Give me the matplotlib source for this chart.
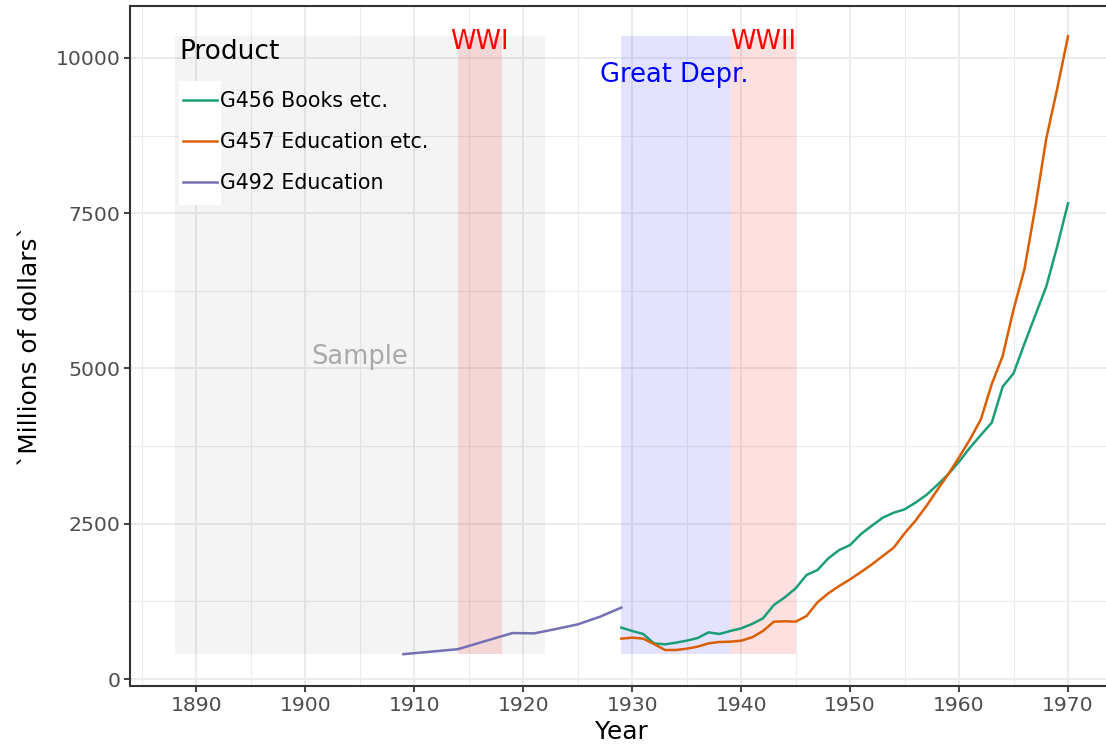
import matplotlib
matplotlib.use("Agg")
import matplotlib.pyplot as plt
from matplotlib.patches import Rectangle

# data
years_post = list(range(1929, 1971))
books = [827, 773, 725, 574, 558, 585, 617, 660, 751, 725, 773, 816, 886, 977,
         1192, 1315, 1460, 1675, 1755, 1943, 2077, 2158, 2335, 2469, 2598, 2678,
         2732, 2840, 2963, 3124, 3296, 3500, 3725, 3929, 4128, 4707, 4922, 5400,
         5860, 6318, 6962, 7660]
educ_etc = [650, 666, 650, 564, 467, 467, 488, 521, 574, 596, 601, 617, 671, 773,
            923, 929, 923, 1014, 1235, 1380, 1498, 1605, 1723, 1846, 1981, 2115,
            2346, 2550, 2786, 3043, 3296, 3570, 3859, 4181, 4750, 5200, 5950, 6600,
            7600, 8700, 9500, 10350]
years_pre = [1909, 1914, 1919, 1921, 1923, 1925, 1927, 1929]
educ = [400, 480, 740, 735, 805, 880, 1000, 1150]

labels = ["G456 Books etc.", "G457 Education etc.", "G492 Education"]
colors = ["#1B9E77", "#D95F02", "#7570B3"]

# shaded periods: (start, end, colour, alpha)
periods = [
    (1888, 1922, "grey", 0.085),
    (1914, 1918, "red", 0.12),
    (1929, 1939, "blue", 0.11),
    (1939, 1945, "red", 0.12),
]
rect_bottom, rect_top = 400, 10350

W, H = 1106, 751
fig = plt.figure(figsize=(W / 100, H / 100), dpi=100)
ax = fig.add_axes([130 / W, 1 - 686 / H, (1112.7 - 130) / W, 680 / H])

ax.set_xlim(1883.9, 1974.1)
ax.set_ylim(-112.7, 10837)

ax.set_xticks(range(1890, 1971, 10))
ax.set_xticks(range(1885, 1975, 10), minor=True)
ax.set_yticks([0, 2500, 5000, 7500, 10000])
ax.set_yticks([1250, 3750, 6250, 8750], minor=True)
ax.grid(which="major", color="#ebebeb", linewidth=1.4, zorder=0)
ax.grid(which="minor", color="#ebebeb", linewidth=0.8, zorder=0)
ax.set_axisbelow(True)

for x0, x1, c, a in periods:
    ax.add_patch(Rectangle((x0, rect_bottom), x1 - x0, rect_top - rect_bottom,
                           facecolor=c, alpha=a, edgecolor="none", zorder=1))

# white key background for the legend
ax.add_patch(Rectangle((49 / 982.7, (686 - 205) / 680), 42 / 982.7, 124 / 680,
                       transform=ax.transAxes, facecolor="white",
                       edgecolor="none", zorder=1.5))

ax.plot(years_post, books, color=colors[0], lw=1.8, label=labels[0], zorder=3)
ax.plot(years_post, educ_etc, color=colors[1], lw=1.8, label=labels[1], zorder=3)
ax.plot(years_pre, educ, color=colors[2], lw=1.8, label=labels[2], zorder=3)

ax.text(1916, 10250, "WWI", color="red", fontsize=18.5, ha="center", va="center")
ax.text(1942, 10250, "WWII", color="red", fontsize=18.5, ha="center", va="center")
ax.text(1933.9, 9726, "Great Depr.", color="blue", fontsize=18.5, ha="center", va="center")
ax.text(1905, 5185, "Sample", color="#a9a9a9", fontsize=18.5, ha="center", va="center")

leg = ax.legend(loc="upper left", bbox_to_anchor=(53 / 982.7, (686 - 91) / 680),
                frameon=False, fontsize=14.8, handlelength=1.65,
                handletextpad=0.15, labelspacing=1.02, borderpad=0,
                borderaxespad=0)
ax.text(49 / 982.7, (686 - 52) / 680, "Product", transform=ax.transAxes,
        fontsize=19, ha="left", va="center")

for s in ["left", "bottom", "top"]:
    ax.spines[s].set_color("#333333")
    ax.spines[s].set_linewidth(1.5)
ax.spines["right"].set_visible(False)

ax.tick_params(which="major", length=4, width=1.3, color="#333333",
               labelsize=14.7, labelcolor="#4d4d4d", pad=3)
ax.tick_params(which="minor", length=0)

ax.set_xlabel("Year", fontsize=17.8, labelpad=4)
ax.set_ylabel("`Millions of dollars`", fontsize=17.8, labelpad=10)

fig.savefig("out.png", dpi=100)
